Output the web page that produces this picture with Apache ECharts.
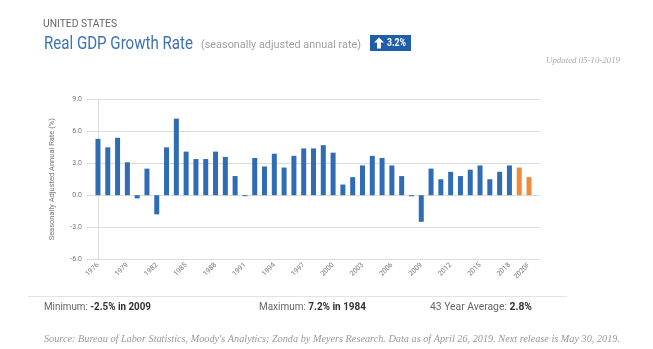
<!DOCTYPE html>
<html>
<head>
<meta charset="utf-8">
<script src="https://cdn.jsdelivr.net/npm/echarts@6/dist/echarts.min.js"></script>
<style>
  html, body { margin: 0; padding: 0; background: #fff; }
  #chart { width: 653px; height: 349px; }
</style>
</head>
<body>
<div id="chart"></div>
<script>
// Annual real GDP growth, 1976 through the 2020 forecast
const years = [
  '1976','1977','1978','1979','1980','1981','1982','1983','1984','1985',
  '1986','1987','1988','1989','1990','1991','1992','1993','1994','1995',
  '1996','1997','1998','1999','2000','2001','2002','2003','2004','2005',
  '2006','2007','2008','2009','2010','2011','2012','2013','2014','2015',
  '2016','2017','2018','2019','2020F'
];
const growth = [
  5.3, 4.5, 5.4, 3.1, -0.3, 2.5, -1.8, 4.5, 7.2, 4.1,
  3.4, 3.4, 4.1, 3.6, 1.8, -0.1, 3.5, 2.7, 3.9, 2.6,
  3.7, 4.4, 4.4, 4.7, 4.0, 1.0, 1.7, 2.8, 3.7, 3.5,
  2.8, 1.8, -0.1, -2.5, 2.5, 1.5, 2.2, 1.8, 2.4, 2.8,
  1.5, 2.2, 2.8, 2.6, 1.7
];
// years from this one on are forecasts / estimates
const forecastFrom = '2019';
const labelYears = ['1976','1979','1982','1985','1988','1991','1994','1997','2000','2003','2006','2009','2012','2015','2018','2020F'];
const yTicks = { min: -6, max: 9, step: 3 };

const BLUE = '#2f6cb3';
const ORANGE = '#ee8a3c';
const forecastIdx = years.indexOf(forecastFrom);

const barData = growth.map((v, i) => ({
  value: [i, v],
  itemStyle: { color: i >= forecastIdx ? ORANGE : BLUE }
}));

// horizontal squeeze so a line of text fills a given width
const measureCtx = document.createElement('canvas').getContext('2d');
function squeeze(text, font, width) {
  measureCtx.font = font;
  return width / measureCtx.measureText(text).width;
}

const sans = 'Roboto, sans-serif';
const serif = '"Liberation Serif", "DejaVu Serif", serif';

// a text line anchored at its left edge and vertical middle, squeezed to a width
function textLine(x, y, text, size, color, width, extra) {
  const weight = (extra && extra.fontWeight) || 'normal';
  const italic = (extra && extra.fontStyle) || 'normal';
  const family = (extra && extra.fontFamily) || sans;
  const s = squeeze(text, `${italic} ${weight} ${size}px ${family}`, width);
  return {
    type: 'text', x: x, y: y, scaleX: s,
    style: Object.assign({ text: text, fontSize: size, fill: color, fontFamily: family,
      textAlign: 'left', textVerticalAlign: 'middle' }, extra || {})
  };
}

// "label: value" stat line with bold value
function statLine(x, y, label, value, width) {
  const size = 10.5;
  const wA = (measureCtx.font = `${size}px ${sans}`, measureCtx.measureText(label).width);
  const wB = (measureCtx.font = `bold ${size}px ${sans}`, measureCtx.measureText(value).width);
  const s = width / (wA + wB);
  return {
    type: 'text', x: x, y: y, scaleX: s,
    style: {
      text: `{a|${label}}{b|${value}}`,
      textVerticalAlign: 'middle',
      rich: {
        a: { fontSize: size, fill: '#666', fontFamily: sans },
        b: { fontSize: size, fill: '#333', fontWeight: 'bold', fontFamily: sans }
      }
    }
  };
}

const chart = echarts.init(document.getElementById('chart'), null, { renderer: 'canvas' });

chart.setOption({
  animation: false,
  backgroundColor: '#fff',
  grid: { left: 87, right: 113, top: 99.5, bottom: 90, containLabel: false },
  xAxis: {
    type: 'value',
    min: -1.12,
    max: years.length - 1 + 1.12,
    axisLine: { show: false },
    axisTick: { show: false },
    splitLine: { show: false },
    axisLabel: {
      customValues: labelYears.map(y => years.indexOf(y)),
      formatter: v => years[Math.round(v)],
      rotate: 45,
      margin: 5,
      fontSize: 7,
      color: '#777',
      fontFamily: sans
    }
  },
  yAxis: {
    type: 'value',
    min: yTicks.min,
    max: yTicks.max,
    interval: yTicks.step,
    name: 'Seasonally Adjusted Annual Rate (%)',
    nameLocation: 'middle',
    nameGap: 31,
    nameRotate: 90,
    nameTextStyle: { fontSize: 7.5, color: '#777', fontFamily: sans },
    axisLine: { show: true, lineStyle: { color: '#dcdcdc', width: 1 } },
    axisTick: { show: false },
    splitLine: { show: true, lineStyle: { color: '#dcdcdc', width: 1 } },
    axisLabel: {
      formatter: v => v.toFixed(1),
      fontSize: 7,
      color: '#777',
      margin: 5,
      fontFamily: sans
    }
  },
  series: [{
    type: 'bar',
    barWidth: 5,
    data: barData
  }],
  graphic: [
    textLine(43, 24, 'UNITED STATES', 11, '#666', 74),
    textLine(44, 44, 'Real GDP Growth Rate', 19, '#3b72b8', 149),
    textLine(201, 45, '(seasonally adjusted annual rate)', 11.5, '#a0a0a0', 160),
    { type: 'rect', shape: { x: 370, y: 35, width: 41, height: 16 }, style: { fill: '#1f5ea8' } },
    { type: 'polygon', shape: { points: [[379, 37.5], [384, 42.5], [381, 42.5], [381, 48.5], [377, 48.5], [377, 42.5], [374, 42.5]] }, style: { fill: '#fff' } },
    textLine(387, 43.5, '3.2%', 10, '#fff', 19, { fontWeight: 'bold' }),
    textLine(546, 61, 'Updated 05-10-2019', 9, '#aaa', 74, { fontStyle: 'italic', fontFamily: serif }),
    { type: 'line', shape: { x1: 28, y1: 296.5, x2: 567, y2: 296.5 }, style: { stroke: '#e3e3e3', lineWidth: 1 } },
    statLine(44, 307, 'Minimum: ', '-2.5% in 2009', 107),
    statLine(259, 307, 'Maximum: ', '7.2% in 1984', 107),
    statLine(430, 307, '43 Year Average: ', '2.8%', 102),
    textLine(44, 339, "Source: Bureau of Labor Statistics, Moody's Analytics; Zonda by Meyers Research. Data as of April 26, 2019. Next release is May 30, 2019.",
      10, '#999', 576, { fontStyle: 'italic', fontFamily: serif })
  ]
});
</script>
</body>
</html>
